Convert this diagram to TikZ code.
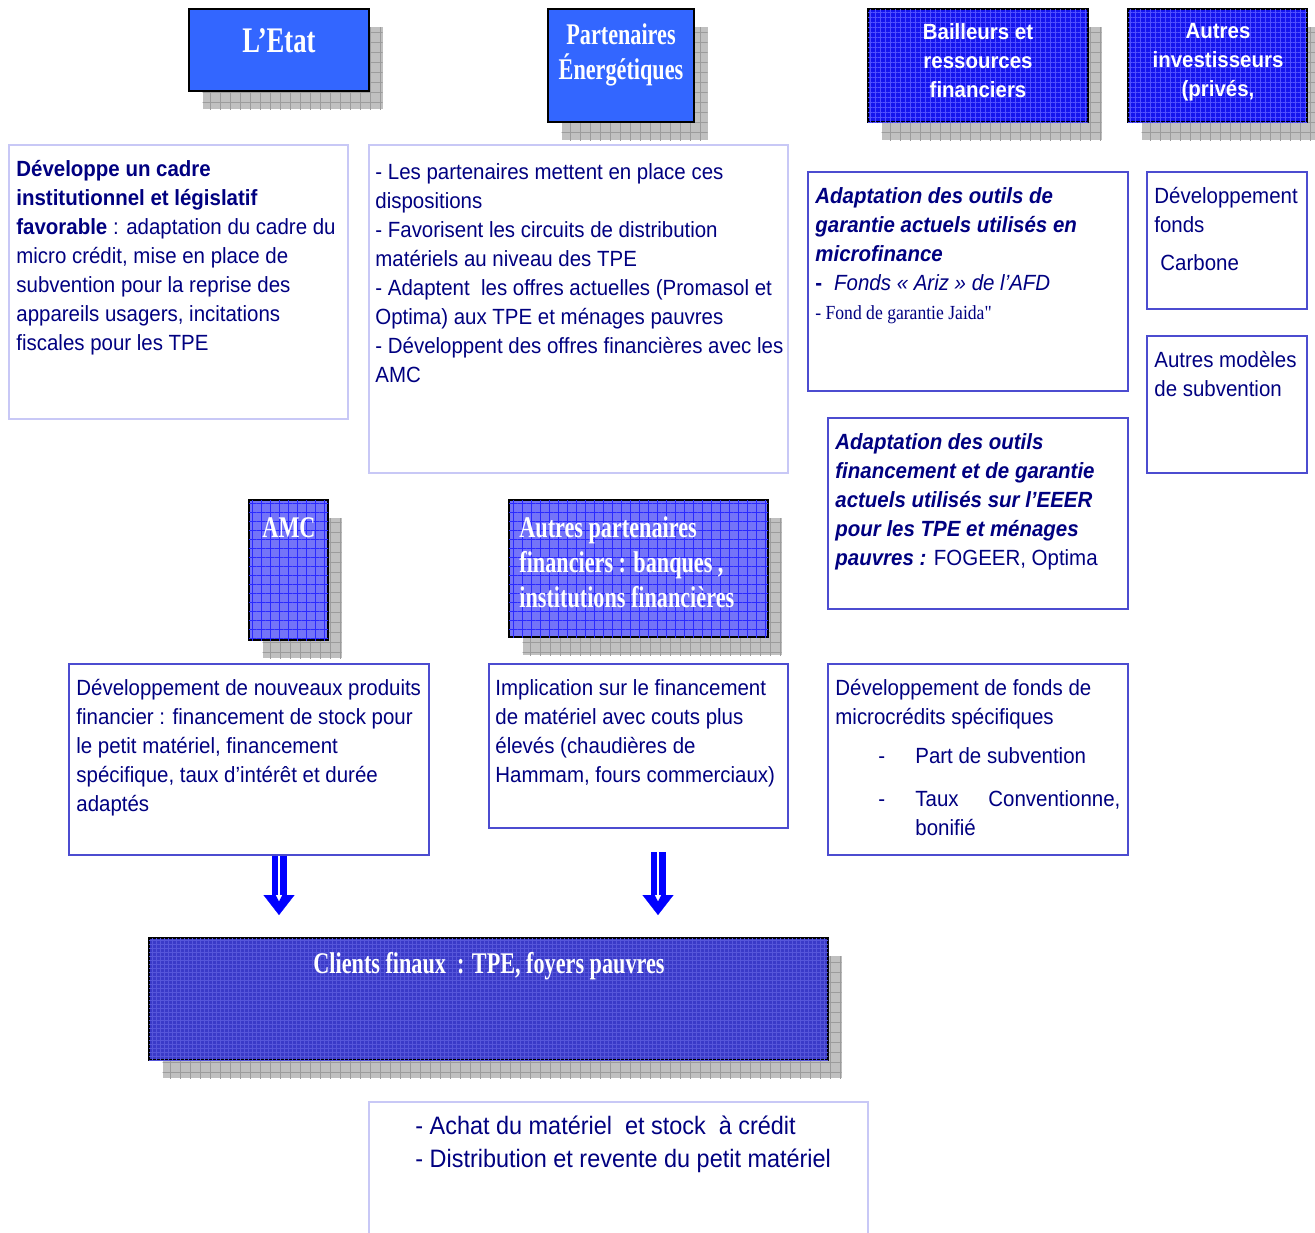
\documentclass[tikz,border=0pt]{standalone}
\usepackage{fontspec}
\setmainfont{Liberation Sans}[FakeStretch=0.93]
\newfontfamily\hdrserif{Liberation Serif}[FakeStretch=0.74]
\newfontfamily\noteserif{Liberation Serif}[FakeStretch=0.88]
\usetikzlibrary{arrows.meta,positioning,fit,patterns.meta}
\definecolor{navytxt}{HTML}{000080}
\definecolor{etatblue}{HTML}{3366FF}
\definecolor{deepblue}{HTML}{1414EE}
\definecolor{deepgrid}{HTML}{5050FF}
\definecolor{amcblue}{HTML}{7474F8}
\definecolor{amcgrid}{HTML}{2A2AFF}
\definecolor{clientblue}{HTML}{3A3AC8}
\definecolor{clientgrid}{HTML}{5656DA}
\definecolor{lightrim}{HTML}{C8C8F6}
\definecolor{midrim}{HTML}{4C4CD0}
\definecolor{shadegray}{HTML}{C0C0C0}
\definecolor{shadeline}{HTML}{9C9C9C}
\definecolor{arrowblue}{HTML}{0000FF}
\newcommand{\bitext}[1]{\textbf{\textit{#1}}}
\tikzset{
  shadowed/.style={
    preaction={fill=shadegray, transform canvas={xshift=6.75pt, yshift=-9pt}},
    preaction={pattern={Hatch[angle=0,distance=5pt,line width=0.4pt]},
      pattern color=shadeline, transform canvas={xshift=6.75pt, yshift=-9pt}}
  },
  hdrbox/.style={
    rectangle, draw=black, line width=1.2pt, fill=#1,
    inner sep=0pt, shadowed
  },
  hdrbox/.default=etatblue,
  deepbox/.style={hdrbox=deepblue,
    postaction={pattern={Hatch[angle=0,distance=2.5pt,line width=0.35pt]}, pattern color=deepgrid}},
  amcbox/.style={hdrbox=amcblue,
    postaction={pattern={Hatch[angle=0,distance=4.5pt,line width=0.3pt]}, pattern color=amcgrid}},
  clientbox/.style={hdrbox=clientblue,
    postaction={pattern={Hatch[angle=0,distance=2pt,line width=0.3pt]}, pattern color=clientgrid}},
  txtbox/.style={rectangle, draw=#1, line width=0.9pt, inner sep=0pt},
  txtbox/.default=midrim,
  bodytxt/.style={anchor=north west, inner sep=0pt, align=left, text=navytxt,
    font=\fontsize{11}{14.5}\selectfont},
  hdrtxt/.style={text=white, align=center, inner sep=0pt,
    font=\hdrserif\bfseries\fontsize{15}{17.5}\selectfont},
  sanshdr/.style={text=white, align=center, inner sep=0pt,
    font=\bfseries\fontsize{11}{14.5}\selectfont},
  fatarrow/.style={draw=arrowblue, line width=7.5pt,
    -{Triangle[width=15.5pt,length=10pt,line width=0.1pt]}},
  slimarrow/.style={draw=white, line width=1pt,
    -{Triangle[width=3pt,length=3pt,line width=0.1pt]}},
}

\begin{document}
\begin{tikzpicture}[x=0.5pt, y=-0.5pt]
  \useasboundingbox (0,0) rectangle (1315,1232);
  % header boxes
  \node[hdrbox, fit={(189,9) (369,91)}] (etat) {};
  \node[hdrbox, fit={(548,9) (694,122)}] (parten) {};
  \node[deepbox, fit={(868,9) (1088,122)}] (bailleurs) {};
  \node[deepbox, fit={(1128,9) (1307,122)}] (investors) {};
  \node[hdrtxt, font=\hdrserif\bfseries\fontsize{18}{20}\selectfont] at (279,41) (etat-t) {L’Etat};
  \node[hdrtxt] at (621,55) (parten-t) {Partenaires\\Énergétiques};
  \node[sanshdr] at (978,61) (bailleurs-t) {Bailleurs et\\ressources\\financiers};
  \node[sanshdr] at (1218,62) (investors-t) {Autres\\investisseurs\\(privés,};

  % text boxes, upper row
  \node[txtbox=lightrim, fit={(9,145) (348,419)}] (etattxt) {};
  \node[bodytxt] at (16,160) (etattxt-t) {\textbf{Développe un cadre}\\
    \textbf{institutionnel et législatif}\\
    \textbf{favorable} : adaptation du cadre du\\
    micro crédit, mise en place de\\
    subvention pour la reprise des\\
    appareils usagers, incitations\\
    fiscales pour les TPE};
  \node[txtbox=lightrim, fit={(369,145) (788,473)}] (partxt) {};
  \node[bodytxt] at (375,163) (partxt-t) {- Les partenaires mettent en place ces\\
    dispositions\\
    - Favorisent les circuits de distribution\\
    matériels au niveau des TPE\\
    - Adaptent~ les offres actuelles (Promasol et\\
    Optima) aux TPE et ménages pauvres\\
    - Développent des offres financières avec les\\
    AMC};
  \node[txtbox, fit={(808,172) (1128,391)}] (garant) {};
  \node[bodytxt] at (815,187) (garant-t) {\bitext{Adaptation des outils de}\\
    \bitext{garantie actuels utilisés en}\\
    \bitext{microfinance}\\
    \textbf{-}\hspace{6pt}\textit{Fonds « Ariz » de l’AFD}\\
    {\noteserif\fontsize{10}{12}\selectfont - Fond de garantie Jaida"}};
  \node[txtbox, fit={(1147,172) (1307,309)}] (carbone) {};
  \node[bodytxt] at (1154,187) (carbone-t) {Développement\\fonds\\[4.5pt]\hspace*{3pt}Carbone};
  \node[txtbox, fit={(1147,336) (1307,473)}] (autresmod) {};
  \node[bodytxt] at (1154,351) (autresmod-t) {Autres modèles\\de subvention};
  \node[txtbox, fit={(828,418) (1128,609)}] (eeer) {};
  \node[bodytxt] at (835,433) (eeer-t) {\bitext{Adaptation des outils}\\
    \bitext{financement et de garantie}\\
    \bitext{actuels utilisés sur l’EEER}\\
    \bitext{pour les TPE et ménages}\\
    \bitext{pauvres :} FOGEER, Optima};

  % financial actors
  \node[amcbox, fit={(249,500) (328,640)}] (amc) {};
  \node[hdrtxt] at (289,528) (amc-t) {AMC};
  \node[amcbox, fit={(509,500) (768,637)}] (autpart) {};
  \node[hdrtxt, align=left, anchor=west] at (519,562) (autpart-t) {Autres partenaires\\
    financiers : banques ,\\institutions financières};

  % text boxes, lower row
  \node[txtbox, fit={(69,664) (429,855)}] (prod) {};
  \node[bodytxt] at (76,679) (prod-t) {Développement de nouveaux produits\\
    financier : financement de stock pour\\
    le petit matériel, financement\\
    spécifique, taux d’intérêt et durée\\
    adaptés};
  \node[txtbox, fit={(489,664) (788,828)}] (impl) {};
  \node[bodytxt] at (495,679) (impl-t) {Implication sur le financement\\
    de matériel avec couts plus\\
    élevés (chaudières de\\
    Hammam, fours commerciaux)};
  \node[txtbox, fit={(828,664) (1128,855)}] (micro) {};
  \node[bodytxt] at (835,679) (micro-t) {Développement de fonds de\\
    microcrédits spécifiques\\[5pt]
    \hspace*{21.5pt}\makebox[18.5pt][l]{-}Part de subvention\\[7pt]
    \hspace*{21.5pt}\makebox[18.5pt][l]{-}\makebox[102.5pt][s]{Taux\hfill Conventionne,}\\
    \hspace*{40pt}bonifié};

  % arrows to clients
  \coordinate (a1) at (279,915);
  \coordinate (a2top) at (658,852);
  \coordinate (a2) at (658,915);
  \draw[fatarrow] (prod.south -| a1) -- (a1);
  \draw[fatarrow] (a2top) -- (a2);
  \draw[slimarrow] (prod.south -| a1) -- ([shift={(0,-14)}]a1);
  \draw[slimarrow] (a2top) -- ([shift={(0,-14)}]a2);

  \node[clientbox, fit={(149,938) (828,1060)}] (clients) {};
  \node[hdrtxt] at (489,966) (clients-t) {Clients finaux~ : TPE, foyers pauvres};

  \node[txtbox=lightrim, fit={(369,1102) (868,1250)}] (achat) {};
  \node[bodytxt, font=\fontsize{12.6}{16.5}\selectfont] at (415,1116) (achat-t) {- Achat du matériel~ et stock~ à crédit\\
    - Distribution et revente du petit matériel};
\end{tikzpicture}
\end{document}
